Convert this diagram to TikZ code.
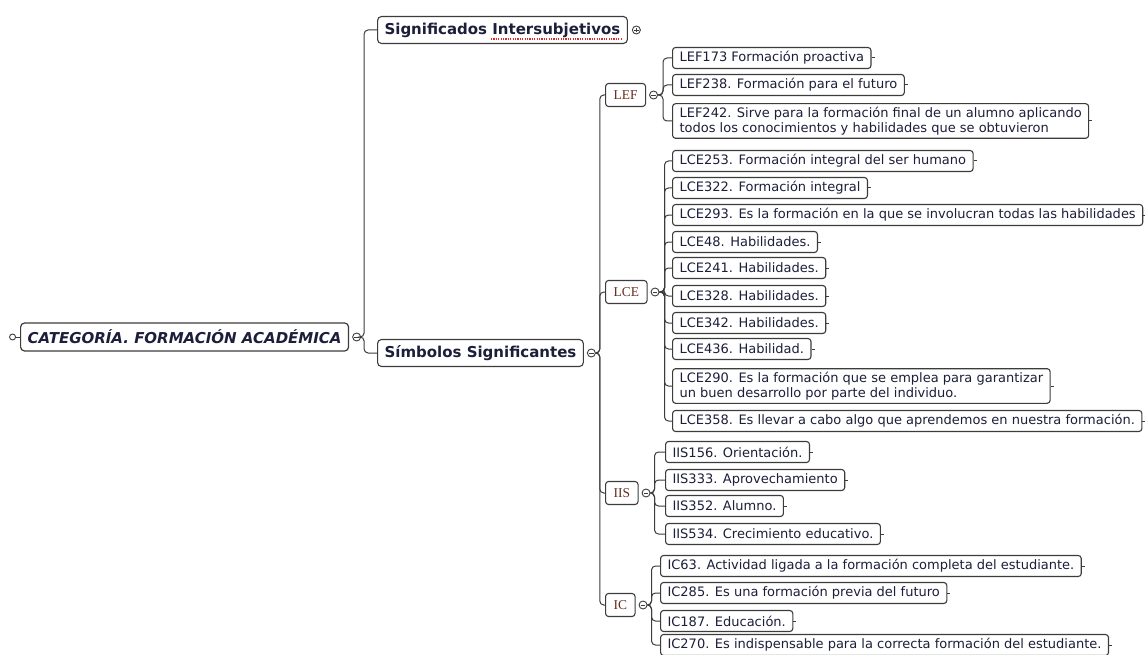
\documentclass[tikz,border=0pt]{standalone}
\usepackage{fontspec}
\setmainfont{DejaVu Sans}
\newfontfamily\tagfont{Liberation Serif}
\usetikzlibrary{positioning}
\definecolor{txtnavy}{RGB}{28,30,58}
\definecolor{boxline}{RGB}{60,60,60}
\definecolor{tagbrown}{RGB}{105,45,30}
\definecolor{spellred}{RGB}{225,40,40}

\begin{document}
\begin{tikzpicture}[x=1pt,y=-1pt,line width=1pt,
root/.style={draw=boxline,fill=white,rounded corners=4pt,line width=1.2pt,inner xsep=7pt,minimum height=28pt,anchor=west,text=txtnavy,font=\fontsize{15}{18}\selectfont\bfseries\itshape},
topic/.style={draw=boxline,fill=white,rounded corners=4pt,line width=1.1pt,inner xsep=7pt,minimum height=27pt,anchor=west,text=txtnavy,font=\fontsize{15}{18}\selectfont\bfseries},
tag/.style={draw=boxline,fill=white,rounded corners=3pt,line width=1.1pt,inner xsep=8pt,minimum height=23pt,anchor=west,text=tagbrown,font=\tagfont\fontsize{13.5}{15}\selectfont},
leaf/.style={draw=boxline,fill=white,rounded corners=3pt,line width=1.1pt,inner xsep=7pt,inner ysep=3pt,minimum height=21pt,anchor=west,align=left,text=txtnavy,font=\fontsize{13}{15.5}\selectfont},
link/.style={draw=boxline,line width=1pt,rounded corners=4pt},
foldm/.style={circle,draw=boxline,fill=white,inner sep=0pt,minimum size=8pt,line width=0.9pt,
  path picture={\draw[line width=0.8pt] ([xshift=-2.3pt]path picture bounding box.center) -- ([xshift=2.3pt]path picture bounding box.center);}},
foldp/.style={circle,draw=boxline,fill=white,inner sep=0pt,minimum size=8pt,line width=0.9pt,
  path picture={\draw[line width=0.8pt] ([xshift=-2.3pt]path picture bounding box.center) -- ([xshift=2.3pt]path picture bounding box.center)
    ([yshift=-2.3pt]path picture bounding box.center) -- ([yshift=2.3pt]path picture bounding box.center);}},
dot/.style={circle,draw=boxline,fill=white,inner sep=0pt,minimum size=6pt,line width=0.9pt}]
\useasboundingbox (0,0) rectangle (1145,655);

% central topic
\node[root] (cat) at (20,337) {CATEGORÍA. FORMACIÓN ACADÉMICA};
\node[dot,left=4pt of cat] (catd) {};
\draw[link] (catd) -- (cat);
\node[foldm,right=3pt of cat] (catm) {};

% main branches
\node[topic] (sig) at (377,30) {Significados Intersubjetivos};
\node[foldp,right=4pt of sig] (sigp) {};
\draw[spellred,line width=1.2pt,dash pattern=on 1.2pt off 1.2pt] ([xshift=-137pt,yshift=-9pt]sig.east) -- ([xshift=-7pt,yshift=-9pt]sig.east);
\node[topic] (sim) at (377,353) {Símbolos Significantes};
\node[foldm,right=3pt of sim] (simm) {};
\foreach \nm in {sig,sim}
  \draw[link] (catm.east) -- ++(3,0) |- (\nm.west);

% codes
\node[tag] (lef) at (605,95) {LEF};
\node[tag] (lce) at (605,292) {LCE};
\node[tag] (iis) at (605,493) {IIS};
\node[tag] (ic) at (605,605) {IC};
\foreach \nm in {lef,lce,iis,ic}{
  \draw[link] (simm.east) -- ++(4,0) |- (\nm.west);
  \node[foldm,right=3pt of \nm] (\nm m) {};
}

% LEF
\foreach \nm/\yy/\tx in {lef1/58/LEF173 Formación proactiva,
  lef2/85/LEF238. Formación para el futuro,
  lef3/121/{LEF242. Sirve para la formación final de un alumno aplicando\\todos los conocimientos y habilidades que se obtuvieron}}{
  \node[leaf] (\nm) at (672,\yy) {\tx};
  \draw[link] (lefm.east) -- ++(5,0) |- (\nm.west);
  \draw[link] (\nm.east) -- ++(3,0);
}

% LCE
\foreach \nm/\yy/\tx in {lce1/161/LCE253. Formación integral del ser humano,
  lce2/188/LCE322. Formación integral,
  lce3/215/LCE293. Es la formación en la que se involucran todas las habilidades,
  lce4/242/LCE48. Habilidades.,
  lce5/268/LCE241. Habilidades.,
  lce6/296/LCE328. Habilidades.,
  lce7/323/LCE342. Habilidades.,
  lce8/349/LCE436. Habilidad.,
  lce9/386/{LCE290. Es la formación que se emplea para garantizar\\un buen desarrollo por parte del individuo.},
  lce10/421/LCE358. Es llevar a cabo algo que aprendemos en nuestra formación.}{
  \node[leaf] (\nm) at (672,\yy) {\tx};
  \draw[link] (lcem.east) -- ++(5,0) |- (\nm.west);
  \draw[link] (\nm.east) -- ++(3,0);
}

% IIS
\foreach \nm/\yy/\tx in {iis1/452/IIS156. Orientación.,
  iis2/480/IIS333. Aprovechamiento,
  iis3/506/IIS352. Alumno.,
  iis4/534/IIS534. Crecimiento educativo.}{
  \node[leaf] (\nm) at (665,\yy) {\tx};
  \draw[link] (iism.east) -- ++(4,0) |- (\nm.west);
  \draw[link] (\nm.east) -- ++(3,0);
}

% IC
\foreach \nm/\yy/\tx in {ic1/566/IC63. Actividad ligada a la formación completa del estudiante.,
  ic2/593/IC285. Es una formación previa del futuro,
  ic3/621/IC187. Educación.,
  ic4/645/IC270. Es indispensable para la correcta formación del estudiante.}{
  \node[leaf] (\nm) at (660,\yy) {\tx};
  \draw[link] (icm.east) -- ++(4,0) |- (\nm.west);
  \draw[link] (\nm.east) -- ++(3,0);
}
\end{tikzpicture}
\end{document}
